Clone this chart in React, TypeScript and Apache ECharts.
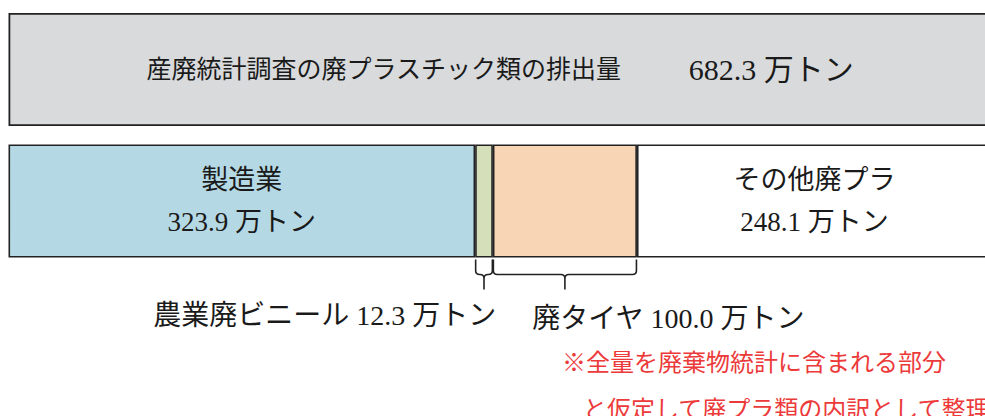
import React, { useEffect, useRef } from "react";
import * as echarts from "echarts";

const rowCategories = ["total", "breakdown"];
const totalLabel = "産廃統計調査の廃プラスチック類の排出量";
const totalValue = 682.3;
const segmentNames = ["製造業", "農業廃ビニール", "廃タイヤ", "その他廃プラ"];
const segmentValues = [323.9, 12.3, 100.0, 248.1];
const segmentLabelInside = [true, false, false, true];
const bracketSegments = [1, 2];
const unit = "万トン";
const noteLines = ["※全量を廃棄物統計に含まれる部分", "と仮定して廃プラ類の内訳として整理"];

const segmentColors = ["#b5d9e4", "#d5e0ba", "#f8d5b5", "#ffffff"];
const FONT = "'Liberation Serif', 'Noto Sans CJK JP', serif";
const BAR_W = 113;

export default function App() {
  const ref = useRef<HTMLDivElement>(null);
  useEffect(() => {
    if (!ref.current) return;
    const chart = echarts.init(ref.current, null, { renderer: "svg" });

    const starts: number[] = [];
    let acc = 0;
    segmentValues.forEach((v) => {
      starts.push(acc);
      acc += v;
    });
    const bracketData = bracketSegments.map((i) => [
      starts[i],
      starts[i] + segmentValues[i],
      1,
    ]);
    const bracketText = bracketSegments.map(
      (i) => `${segmentNames[i]} ${segmentValues[i].toFixed(1)} ${unit}`
    );
    const bracketLabelPlace = [
      { anchor: "end", dx: 4, dy: 114, align: "right" },
      { anchor: "start", dx: 39, dy: 117, align: "left" },
    ];

    const series: any[] = [
      {
        type: "bar",
        stack: "s",
        barWidth: BAR_W,
        data: [totalValue, "-"],
        itemStyle: { color: "#d9dadc", borderColor: "#222", borderWidth: 1.8 },
        label: {
          show: true,
          position: "inside",
          formatter: () => `{a|${totalLabel}}{b|　　 ${totalValue.toFixed(1)} ${unit}}`,
          rich: {
            a: { fontFamily: FONT, fontSize: 25, color: "#1a1a1a" },
            b: { fontFamily: FONT, fontSize: 30, color: "#1a1a1a" },
          },
        },
      },
      ...segmentNames.map((name, i) => ({
        type: "bar",
        name,
        stack: "s",
        barWidth: BAR_W,
        data: ["-", segmentValues[i]],
        itemStyle: {
          color: segmentColors[i],
          borderColor: "#222",
          borderWidth: 1.6,
        },
        label: {
          show: segmentLabelInside[i],
          position: "inside",
          formatter: () => `${name}\n${segmentValues[i].toFixed(1)} ${unit}`,
          fontFamily: FONT,
          fontSize: 27,
          lineHeight: 42,
          color: "#1a1a1a",
        },
      })),
      {
        type: "custom",
        clip: false,
        encode: { x: [0, 1], y: 2 },
        data: bracketData,
        renderItem: (params: any, api: any) => {
          const a = api.coord([api.value(0), 1]);
          const b = api.coord([api.value(1), 1]);
          const x0 = a[0] + 0.5;
          const x1 = b[0] - 0.5;
          const xm = (x0 + x1) / 2;
          const top = a[1] + BAR_W / 2 + 2;
          const yh = top + 15;
          const tip = top + 30;
          const r = 4;
          const d =
            `M${x0},${top} L${x0},${yh - r} Q${x0},${yh} ${x0 + r},${yh} L${xm - r},${yh} Q${xm},${yh} ${xm},${yh + r} L${xm},${tip} ` +
            `M${x1},${top} L${x1},${yh - r} Q${x1},${yh} ${x1 - r},${yh} L${xm + r},${yh} Q${xm},${yh} ${xm},${yh + r}`;
          const p = bracketLabelPlace[params.dataIndex];
          const tx = (p.anchor === "end" ? x1 : x0) + p.dx;
          return {
            type: "group",
            children: [
              {
                type: "path",
                shape: { pathData: d },
                style: { stroke: "#222", fill: "none", lineWidth: 1.6 },
              },
              {
                type: "text",
                x: tx,
                y: a[1] + p.dy,
                style: {
                  text: bracketText[params.dataIndex],
                  fontFamily: FONT,
                  fontSize: 28,
                  fill: "#1a1a1a",
                  align: p.align,
                  verticalAlign: "middle",
                },
              },
            ],
          };
        },
      },
    ];

    chart.setOption({
      animation: false,
      grid: { left: 8.5, top: 3.75, width: 983, height: 263, containLabel: false },
      xAxis: { type: "value", min: 0, max: totalValue, show: false },
      yAxis: { type: "category", data: rowCategories, inverse: true, show: false },
      series,
      graphic: [
        {
          type: "text",
          x: 562,
          y: 363,
          style: {
            text: noteLines[0],
            fontFamily: FONT,
            fontSize: 24,
            fill: "#ec3a3a",
            verticalAlign: "middle",
          },
        },
        {
          type: "text",
          x: 583,
          y: 410,
          style: {
            text: noteLines[1],
            fontFamily: FONT,
            fontSize: 24,
            fill: "#ec3a3a",
            verticalAlign: "middle",
          },
        },
      ],
    });
    return () => chart.dispose();
  }, []);
  return (
    <div style={{ position: "fixed", left: 0, top: 0, width: 985, height: 416, overflow: "hidden", background: "#fff" }}>
      <div ref={ref} style={{ width: 1000, height: 416 }} />
    </div>
  );
}
